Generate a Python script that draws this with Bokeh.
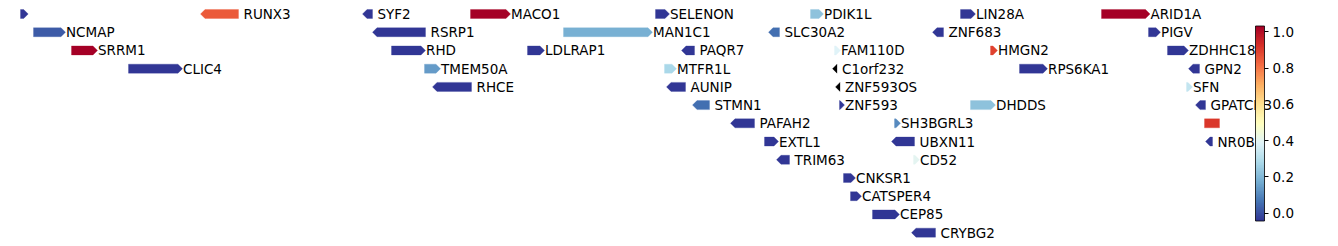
import math
from bokeh.plotting import figure
from bokeh.models import (ColumnDataSource, Range1d, LinearColorMapper, ColorBar,
                          FixedTicker, PrintfTickFormatter)
from bokeh.core.properties import value
from bokeh.transform import transform
from bokeh.embed import file_html
from bokeh.resources import INLINE

NAN = float("nan")
VMIN = -0.044
VMAX = 1.033

# view window (gene coordinate units)
XMIN, XMAX = 20.0, 1219.0

gene_names = [
    "", "RUNX3", "SYF2", "MACO1", "SELENON", "PDIK1L", "LIN28A", "ARID1A",
    "NCMAP", "RSRP1", "MAN1C1", "SLC30A2", "ZNF683", "PIGV",
    "SRRM1", "RHD", "LDLRAP1", "PAQR7", "FAM110D", "HMGN2", "ZDHHC18",
    "CLIC4", "TMEM50A", "MTFR1L", "C1orf232", "RPS6KA1", "GPN2",
    "RHCE", "AUNIP", "ZNF593OS", "SFN",
    "STMN1", "ZNF593", "DHDDS", "GPATCH3",
    "PAFAH2", "SH3BGRL3", "",
    "EXTL1", "UBXN11", "NR0B2",
    "TRIM63", "CD52",
    "CNKSR1", "CATSPER4", "CEP85", "CRYBG2",
]
gene_starts = [
    10, 204.5, 366.5, 470, 655, 810, 960, 1101,
    33, 376.5, 563, 772.5, 936.5, 1148,
    71, 391, 527, 685.5, 834, 990, 1167,
    128, 424, 664, 836.5, 1019, 1192.5,
    436.5, 670.5, 839.5, 1186,
    696.5, 839, 970, 1199.5,
    734.5, 894, 1204,
    764, 895.5, 1209.5,
    780.5, 913,
    843, 850, 872, 915.5,
]
gene_ends = [
    23.2, 238, 372, 505.5, 664.5, 818.5, 970.5, 1145,
    60.5, 425, 647.5, 779, 943, 1155.5,
    92.5, 420.5, 539.5, 694, 835.5, 992.5, 1183.5,
    177.5, 435.5, 671.5, 836.5, 1042.5, 1199,
    471, 685, 839.5, 1187.5,
    709, 839.5, 990.5, 1205,
    754, 895.5, 1230,
    773.5, 914, 1212,
    789, 914.5,
    850.5, 856.5, 894.5, 935,
]
gene_strands = [
    1, -1, -1, 1, 1, 1, 1, 1,
    1, -1, 1, -1, -1, 1,
    1, 1, 1, -1, 1, 1, 1,
    1, 1, 1, -1, 1, -1,
    -1, -1, -1, 1,
    -1, 1, 1, -1,
    -1, 1, 1,
    1, -1, -1,
    -1, 1,
    1, 1, 1, -1,
]
gene_rows = [
    0, 0, 0, 0, 0, 0, 0, 0,
    1, 1, 1, 1, 1, 1,
    2, 2, 2, 2, 2, 2, 2,
    3, 3, 3, 3, 3, 3,
    4, 4, 4, 4,
    5, 5, 5, 5,
    6, 6, 6,
    7, 7, 7,
    8, 8,
    9, 10, 11, 12,
]
gene_values = [
    VMIN, 0.85, VMIN, VMAX, VMIN, 0.225, VMIN, VMAX,
    0.021, VMIN, 0.18, 0.053, VMIN, VMIN,
    VMAX, VMIN, VMIN, VMIN, 0.387, 0.893, VMIN,
    VMIN, 0.139, 0.279, NAN, VMIN, VMIN,
    VMIN, VMIN, NAN, 0.33,
    0.053, VMIN, 0.225, VMIN,
    VMIN, 0.107, 0.915,
    VMIN, VMIN, VMIN,
    VMIN, 0.40,
    VMIN, VMIN, VMIN, VMIN,
]

cbar_ticks = [0.0, 0.2, 0.4, 0.6, 0.8, 1.0]

# RdYlBu reversed (colorbrewer 11 classes), interpolated to 256
rdylbu_r = ["#313695", "#4575b4", "#74add1", "#abd9e9", "#e0f3f8", "#ffffbf",
            "#fee090", "#fdae61", "#f46d43", "#d73027", "#a50026"]


def interp_palette(cols, n):
    rgb = [tuple(int(c[i:i + 2], 16) for i in (1, 3, 5)) for c in cols]
    out = []
    for k in range(n):
        t = k / (n - 1) * (len(rgb) - 1)
        i = min(int(t), len(rgb) - 2)
        f = t - i
        c = [round(rgb[i][j] + (rgb[i + 1][j] - rgb[i][j]) * f) for j in range(3)]
        out.append("#%02x%02x%02x" % tuple(c))
    return out


palette = interp_palette(rdylbu_r, 256)

HEAD = 4.5      # arrow head length (x units)
HALF_H = 0.247  # half arrow height (row units)


def clip_poly(xs, ys, xlim, keep_greater):
    out_x, out_y = [], []
    n = len(xs)
    for i in range(n):
        x1, y1 = xs[i], ys[i]
        x2, y2 = xs[(i + 1) % n], ys[(i + 1) % n]
        in1 = (x1 >= xlim) if keep_greater else (x1 <= xlim)
        in2 = (x2 >= xlim) if keep_greater else (x2 <= xlim)
        if in1:
            out_x.append(x1); out_y.append(y1)
        if in1 != in2:
            f = (xlim - x1) / (x2 - x1)
            out_x.append(xlim); out_y.append(y1 + f * (y2 - y1))
    return out_x, out_y


poly_xs, poly_ys = [], []
for s, e, st, r in zip(gene_starts, gene_ends, gene_strands, gene_rows):
    if st > 0:
        px = [s, e, e + HEAD, e, s]
    else:
        px = [e, s, s - HEAD, s, e]
    py = [r - HALF_H, r - HALF_H, r, r + HALF_H, r + HALF_H]
    px, py = clip_poly(px, py, XMIN, True)
    px, py = clip_poly(px, py, XMAX, False)
    poly_xs.append(px)
    poly_ys.append(py)

gene_src = ColumnDataSource(dict(xs=poly_xs, ys=poly_ys, value=gene_values))

lab_x, lab_y, lab_t = [], [], []
for nm, s, e, r in zip(gene_names, gene_starts, gene_ends, gene_rows):
    if nm and s - HEAD >= XMIN and e + HEAD <= XMAX:
        lab_x.append(e + HEAD + 0.5)
        lab_y.append(r)
        lab_t.append(nm)
label_src = ColumnDataSource(dict(x=lab_x, y=lab_y, text=lab_t))

W, H = 1338, 246
ROW0_PX, ROW_STEP = 13.5, 18.22

p = figure(width=W, height=H, output_backend="svg", toolbar_location=None,
           x_range=Range1d(0, W),
           y_range=Range1d((H - ROW0_PX) / ROW_STEP, -ROW0_PX / ROW_STEP),
           x_axis_location=None, y_axis_location=None, min_border=0)
p.outline_line_color = None
p.grid.visible = False
p.background_fill_color = "white"

mapper = LinearColorMapper(palette=palette, low=VMIN, high=VMAX, nan_color="black")

p.patches("xs", "ys", source=gene_src, fill_color=transform("value", mapper),
          line_color=transform("value", mapper), line_width=0.3)

p.text("x", "y", text="text", source=label_src, text_font=value("DejaVu Sans"),
       text_font_size="13.5px", text_baseline="middle", text_align="left",
       text_color="black")

cb = ColorBar(color_mapper=mapper, location=(1255, 25.5), width=9, height=195,
              padding=0, margin=0, background_fill_alpha=0, border_line_color=None,
              ticker=FixedTicker(ticks=cbar_ticks),
              formatter=PrintfTickFormatter(format="%.1f"),
              major_label_text_font="DejaVu Sans", major_label_text_font_size="13.5px",
              major_label_text_color="black",
              major_tick_in=0, major_tick_out=4, major_tick_line_color="black",
              minor_tick_line_color=None, bar_line_color="black", bar_line_width=0.8,
              label_standoff=4)
p.add_layout(cb)

open("out.html", "w").write(file_html(p, INLINE))
